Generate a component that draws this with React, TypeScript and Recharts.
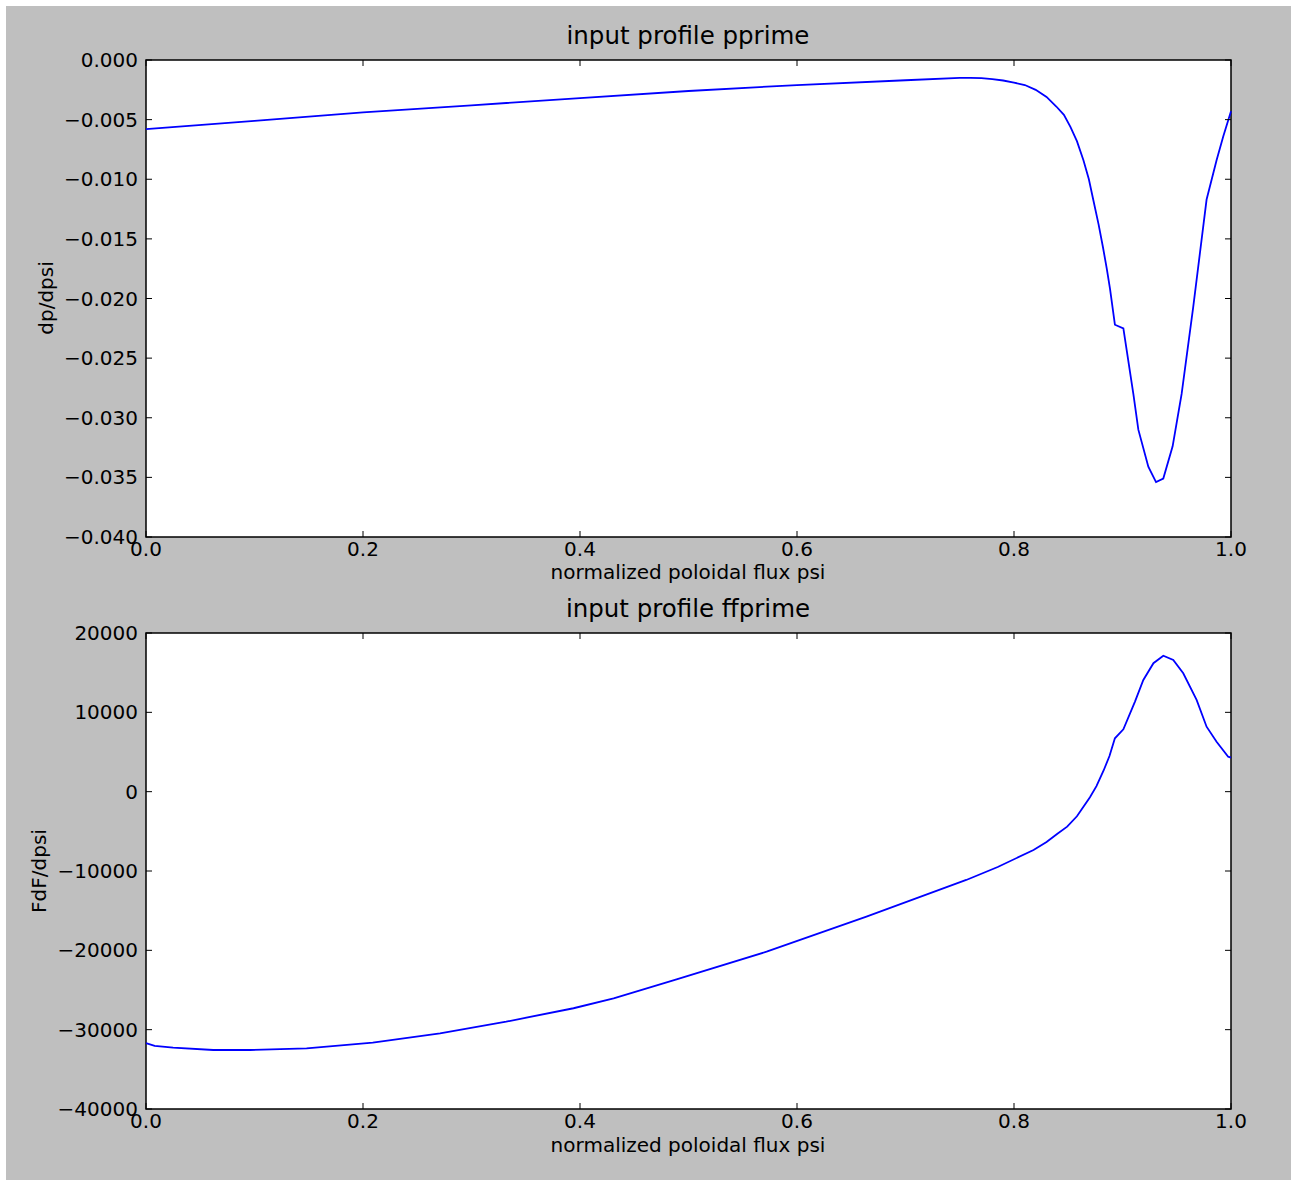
import { Line, LineChart, ReferenceArea, XAxis, YAxis } from "recharts";

// pprime profile: psi samples and dp/dpsi values
const psiP = [
  0, 0.1, 0.2, 0.3, 0.4, 0.5, 0.6, 0.7, 0.75, 0.76, 0.77, 0.78, 0.79, 0.8,
  0.81, 0.82, 0.83, 0.839, 0.846, 0.852, 0.858, 0.864, 0.869, 0.873, 0.878,
  0.882, 0.8855, 0.8885, 0.893, 0.9008, 0.91, 0.9146, 0.9238, 0.9309, 0.9376,
  0.9462, 0.9545, 0.9652, 0.9775, 0.9867, 0.9929, 1.0,
];
const pprime = [
  -0.0058, -0.0051, -0.0044, -0.0038, -0.0032, -0.0026, -0.0021, -0.0017,
  -0.0015, -0.0015, -0.00152, -0.0016, -0.00172, -0.0019, -0.0021, -0.0025,
  -0.0031, -0.0039, -0.0046, -0.0056, -0.0068, -0.0084, -0.01, -0.0117,
  -0.0138, -0.0157, -0.0175, -0.0192, -0.0222, -0.0225, -0.028, -0.031,
  -0.0341, -0.0354, -0.0351, -0.0324, -0.028, -0.0207, -0.0117, -0.0084,
  -0.0064, -0.0043,
];

// ffprime profile: psi samples and FdF/dpsi values
const psiF = [
  0, 0.008, 0.025, 0.062, 0.096, 0.148, 0.209, 0.271, 0.332, 0.394, 0.431,
  0.489, 0.572, 0.664, 0.756, 0.785, 0.818, 0.83, 0.84, 0.849, 0.858, 0.864,
  0.87, 0.876, 0.8827, 0.888, 0.893, 0.9008, 0.9115, 0.9192, 0.9285, 0.9376,
  0.9468, 0.956, 0.9683, 0.9775, 0.9867, 0.9974, 1.0,
];
const ffprime = [
  -31700, -32050, -32270, -32560, -32560, -32350, -31640, -30460, -28990,
  -27300, -26050, -23650, -20170, -15760, -11130, -9500, -7350, -6350, -5300,
  -4410, -3100, -1900, -700, 700, 2700, 4500, 6730, 7860, 11350, 14080, 16190,
  17140, 16600, 14920, 11560, 8190, 6300, 4410, 4300,
];

const xTicks = [0, 0.2, 0.4, 0.6, 0.8, 1.0];
const pprimeTicks = [0, -0.005, -0.01, -0.015, -0.02, -0.025, -0.03, -0.035, -0.04];
const ffprimeTicks = [20000, 10000, 0, -10000, -20000, -30000, -40000];

const FONT = "'DejaVu Sans', sans-serif";
const PLOT_W = 1085;
const TICK = 6;
const TICK_FONT = 20;

const minus = (s: string) => s.replace("-", "\u2212");
const fmtX = (v: number) => v.toFixed(1);
const fmtP = (v: number) => (v === 0 ? "0.000" : minus(v.toFixed(3)));
const fmtF = (v: number) => minus(String(v));

function YTick(props: any) {
  const { x, y, payload, fmt } = props;
  return (
    <g>
      <line x1={x} x2={x + TICK} y1={y} y2={y} stroke="#000" strokeWidth={1} />
      <line x1={x + PLOT_W - TICK} x2={x + PLOT_W} y1={y} y2={y} stroke="#000" strokeWidth={1} />
      <text x={x - 8} y={y} dy={7} textAnchor="end" fontFamily={FONT} fontSize={TICK_FONT} fill="#000">
        {fmt(payload.value)}
      </text>
    </g>
  );
}

function XTick(props: any) {
  const { x, y, payload, plotH } = props;
  return (
    <g>
      <line x1={x} x2={x} y1={y - TICK} y2={y} stroke="#000" strokeWidth={1} />
      <line x1={x} x2={x} y1={y - plotH} y2={y - plotH + TICK} stroke="#000" strokeWidth={1} />
      <text x={x} y={y} dy={19} textAnchor="middle" fontFamily={FONT} fontSize={TICK_FONT} fill="#000">
        {fmtX(payload.value)}
      </text>
    </g>
  );
}

function Panel({
  xs,
  ys,
  yTicks,
  domain,
  fmt,
  top,
  plotH,
}: {
  xs: number[];
  ys: number[];
  yTicks: number[];
  domain: [number, number];
  fmt: (v: number) => string;
  top: number;
  plotH: number;
}) {
  const data = xs.map((x, i) => ({ x, y: ys[i] }));
  return (
    <div style={{ position: "absolute", left: 0, top: 0 }}>
      <LineChart
        width={1297}
        height={top + plotH + 40}
        data={data}
        margin={{ top, right: 66, left: 66, bottom: 10 }}
      >
        <XAxis
          dataKey="x"
          type="number"
          domain={[0, 1]}
          ticks={xTicks}
          interval={0}
          height={30}
          axisLine={false}
          tickLine={false}
          tickSize={0}
          tickMargin={0}
          tick={(p: any) => <XTick {...p} plotH={plotH} />}
        />
        <YAxis
          type="number"
          domain={domain}
          ticks={yTicks}
          interval={0}
          width={80}
          allowDataOverflow
          axisLine={false}
          tickLine={false}
          tickSize={0}
          tickMargin={0}
          tick={(p: any) => <YTick {...p} fmt={fmt} />}
        />
        {/* white plot background */}
        <ReferenceArea
          x1={0}
          x2={1}
          y1={domain[0]}
          y2={domain[1]}
          fill="#fff"
          fillOpacity={1}
          stroke="none"
          ifOverflow="visible"
        />
        <Line
          type="linear"
          dataKey="y"
          stroke="#0000ff"
          strokeWidth={1.8}
          dot={false}
          isAnimationActive={false}
        />
        {/* axes frame */}
        <ReferenceArea
          x1={0}
          x2={1}
          y1={domain[0]}
          y2={domain[1]}
          fill="none"
          fillOpacity={0}
          stroke="#000"
          strokeWidth={1.5}
          ifOverflow="visible"
        />
      </LineChart>
    </div>
  );
}

const textStyle = { fontFamily: FONT, fill: "#000" };

export default function App() {
  return (
    <div style={{ position: "relative", width: 1297, height: 1182, background: "#fff" }}>
      <style>{"body{margin:0}"}</style>
      <div
        style={{
          position: "absolute",
          left: 6,
          top: 6,
          width: 1285,
          height: 1174,
          background: "#bfbfbf",
        }}
      />
      <Panel xs={psiP} ys={pprime} yTicks={pprimeTicks} domain={[-0.04, 0]} fmt={fmtP} top={60} plotH={477} />
      <Panel xs={psiF} ys={ffprime} yTicks={ffprimeTicks} domain={[-40000, 20000]} fmt={fmtF} top={633} plotH={476} />
      <svg
        width={1297}
        height={1182}
        style={{ position: "absolute", left: 0, top: 0, pointerEvents: "none" }}
      >
        <text x={688} y={44} textAnchor="middle" fontSize={24.5} {...textStyle}>
          input profile pprime
        </text>
        <text x={688} y={579} textAnchor="middle" fontSize={20} {...textStyle}>
          normalized poloidal flux psi
        </text>
        <text transform="translate(53,298) rotate(-90)" textAnchor="middle" fontSize={20} {...textStyle}>
          dp/dpsi
        </text>
        <text x={688} y={617} textAnchor="middle" fontSize={24.5} {...textStyle}>
          input profile ffprime
        </text>
        <text x={688} y={1152} textAnchor="middle" fontSize={20} {...textStyle}>
          normalized poloidal flux psi
        </text>
        <text transform="translate(46,871) rotate(-90)" textAnchor="middle" fontSize={20} {...textStyle}>
          FdF/dpsi
        </text>
      </svg>
    </div>
  );
}
